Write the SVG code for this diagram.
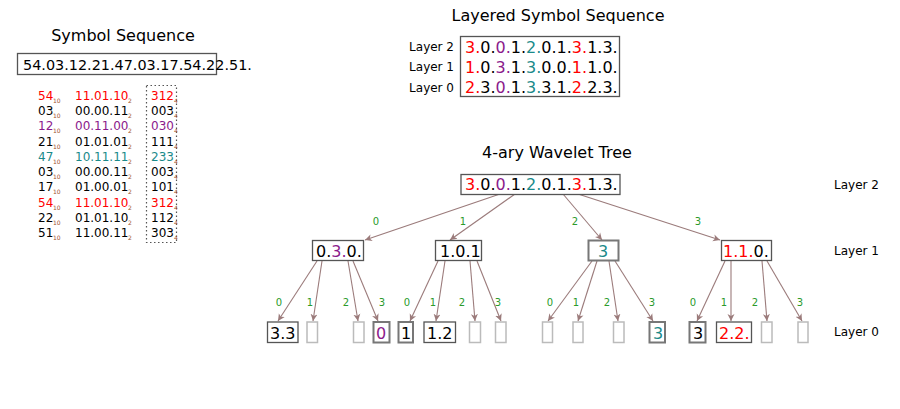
<svg xmlns="http://www.w3.org/2000/svg" width="900" height="409" viewBox="0 0 900 409">
<defs>
<marker id="ah" markerWidth="8" markerHeight="8" refX="7" refY="4" orient="auto" markerUnits="userSpaceOnUse">
<path d="M0,0.5 L7,4 L0,7.5 L2,4 Z" fill="#9b7b7b"/>
</marker>
<style>
text{font-family:"DejaVu Sans","Liberation Sans",sans-serif;fill:#000}
.title{font-size:16px;text-anchor:middle}
.seq{font-size:16px}
.lbl{font-size:12px}
.tb{font-size:12px}
.sub{font-size:6px;fill:#a0522d}
.el{font-size:10px;fill:#2a9a2a;text-anchor:middle}
.r{fill:#f00}.p{fill:#8b1a8b}.t{fill:#1a8a8a}
.box{fill:#fff;stroke:#555;stroke-width:1.3}
.gbox{fill:#fff;stroke:#777;stroke-width:2}
.ebox{fill:#fff;stroke:#bbb;stroke-width:1.5}
.e{stroke:#9b7b7b;stroke-width:1.1;fill:none;marker-end:url(#ah)}
</style>
</defs>
<rect width="900" height="409" fill="#fff"/>

<g id="symbol-sequence">
<text class="title" x="123" y="41">Symbol Sequence</text>
<rect x="17.5" y="53.5" width="199" height="21" fill="none" stroke="#555" stroke-width="1.3"/>
<text x="23" y="70" font-size="14.4">54.03.12.21.47.03.17.54.22.51.</text>
</g>

<g id="conversion-table">
<rect x="146.5" y="85.5" width="30" height="157" fill="none" stroke="#555" stroke-width="1.2" stroke-dasharray="1.5,2.5"/>
<g class="tb">
<text x="38" y="100" class="r">54</text><text x="75" y="100" class="r">11.01.10</text><text x="151" y="100" class="r">312</text>
<text x="38" y="115">03</text><text x="75" y="115">00.00.11</text><text x="151" y="115">003</text>
<text x="38" y="130" class="p">12</text><text x="75" y="130" class="p">00.11.00</text><text x="151" y="130" class="p">030</text>
<text x="38" y="146">21</text><text x="75" y="146">01.01.01</text><text x="151" y="146">111</text>
<text x="38" y="161" class="t">47</text><text x="75" y="161" class="t">10.11.11</text><text x="151" y="161" class="t">233</text>
<text x="38" y="176">03</text><text x="75" y="176">00.00.11</text><text x="151" y="176">003</text>
<text x="38" y="191">17</text><text x="75" y="191">01.00.01</text><text x="151" y="191">101</text>
<text x="38" y="207" class="r">54</text><text x="75" y="207" class="r">11.01.10</text><text x="151" y="207" class="r">312</text>
<text x="38" y="222">22</text><text x="75" y="222">01.01.10</text><text x="151" y="222">112</text>
<text x="38" y="237">51</text><text x="75" y="237">11.00.11</text><text x="151" y="237">303</text>
</g>
<g>
<text class="sub" x="53" y="103">10</text><text class="sub" x="128" y="103">2</text><text class="sub" x="174" y="103">4</text>
<text class="sub" x="53" y="118">10</text><text class="sub" x="128" y="118">2</text><text class="sub" x="174" y="118">4</text>
<text class="sub" x="53" y="133">10</text><text class="sub" x="128" y="133">2</text><text class="sub" x="174" y="133">4</text>
<text class="sub" x="53" y="149">10</text><text class="sub" x="128" y="149">2</text><text class="sub" x="174" y="149">4</text>
<text class="sub" x="53" y="164">10</text><text class="sub" x="128" y="164">2</text><text class="sub" x="174" y="164">4</text>
<text class="sub" x="53" y="179">10</text><text class="sub" x="128" y="179">2</text><text class="sub" x="174" y="179">4</text>
<text class="sub" x="53" y="194">10</text><text class="sub" x="128" y="194">2</text><text class="sub" x="174" y="194">4</text>
<text class="sub" x="53" y="210">10</text><text class="sub" x="128" y="210">2</text><text class="sub" x="174" y="210">4</text>
<text class="sub" x="53" y="225">10</text><text class="sub" x="128" y="225">2</text><text class="sub" x="174" y="225">4</text>
<text class="sub" x="53" y="240">10</text><text class="sub" x="128" y="240">2</text><text class="sub" x="174" y="240">4</text>
</g>
</g>

<g id="layered-sequence">
<text class="title" x="558" y="21">Layered Symbol Sequence</text>
<rect x="460.5" y="36.5" width="159" height="60" fill="none" stroke="#555" stroke-width="1.3"/>
<text class="lbl" x="454" y="51" text-anchor="end">Layer 2</text>
<text class="lbl" x="454" y="71" text-anchor="end">Layer 1</text>
<text class="lbl" x="454" y="92" text-anchor="end">Layer 0</text>
<text class="seq" x="465" y="53"><tspan class="r">3.</tspan>0.<tspan class="p">0.</tspan>1.<tspan class="t">2.</tspan>0.1.<tspan class="r">3.</tspan>1.3.</text>
<text class="seq" x="465" y="73"><tspan class="r">1.</tspan>0.<tspan class="p">3.</tspan>1.<tspan class="t">3.</tspan>0.0.<tspan class="r">1.</tspan>1.0.</text>
<text class="seq" x="465" y="93"><tspan class="r">2.</tspan>3.<tspan class="p">0.</tspan>1.<tspan class="t">3.</tspan>3.1.<tspan class="r">2.</tspan>2.3.</text>
</g>

<text class="title" x="557" y="158">4-ary Wavelet Tree</text>
<text class="lbl" x="834" y="189">Layer 2</text>
<text class="lbl" x="834" y="255">Layer 1</text>
<text class="lbl" x="834" y="336">Layer 0</text>

<g id="connectors">
<line class="e" x1="500" y1="194" x2="365" y2="240"/>
<line class="e" x1="515" y1="194" x2="450" y2="240"/>
<line class="e" x1="563" y1="194" x2="602" y2="240"/>
<line class="e" x1="578" y1="194" x2="720" y2="240"/>
<line class="e" x1="317" y1="261" x2="278" y2="321"/>
<line class="e" x1="322" y1="261" x2="313" y2="321"/>
<line class="e" x1="348" y1="261" x2="358" y2="321"/>
<line class="e" x1="353" y1="261" x2="378" y2="321"/>
<line class="e" x1="438" y1="261" x2="410" y2="321"/>
<line class="e" x1="445" y1="261" x2="436" y2="321"/>
<line class="e" x1="470" y1="261" x2="475" y2="321"/>
<line class="e" x1="477" y1="261" x2="501" y2="321"/>
<line class="e" x1="592" y1="261" x2="548" y2="321"/>
<line class="e" x1="597" y1="261" x2="578" y2="321"/>
<line class="e" x1="609" y1="261" x2="618" y2="321"/>
<line class="e" x1="615" y1="261" x2="653" y2="321"/>
<line class="e" x1="725" y1="261" x2="697" y2="321"/>
<line class="e" x1="731" y1="261" x2="731" y2="321"/>
<line class="e" x1="762" y1="261" x2="767" y2="321"/>
<line class="e" x1="767" y1="261" x2="802" y2="321"/>
<text class="el" x="376" y="225">0</text>
<text class="el" x="463" y="225">1</text>
<text class="el" x="575" y="225">2</text>
<text class="el" x="698" y="225">3</text>
<text class="el" x="279" y="306">0</text>
<text class="el" x="310" y="306">1</text>
<text class="el" x="346" y="306">2</text>
<text class="el" x="382" y="306">3</text>
<text class="el" x="407" y="306">0</text>
<text class="el" x="433" y="306">1</text>
<text class="el" x="462" y="306">2</text>
<text class="el" x="498" y="306">3</text>
<text class="el" x="550" y="306">0</text>
<text class="el" x="576" y="306">1</text>
<text class="el" x="607" y="306">2</text>
<text class="el" x="652" y="306">3</text>
<text class="el" x="693" y="306">0</text>
<text class="el" x="724" y="306">1</text>
<text class="el" x="755" y="306">2</text>
<text class="el" x="800" y="306">3</text>
</g>

<g id="root">
<rect class="box" x="461" y="174.5" width="159" height="20"/>
<text class="seq" x="465" y="190"><tspan class="r">3.</tspan>0.<tspan class="p">0.</tspan>1.<tspan class="t">2.</tspan>0.1.<tspan class="r">3.</tspan>1.3.</text>
</g>

<g id="n0">
<rect class="box" x="312.5" y="240.5" width="51" height="20"/>
<text class="seq" x="316" y="257">0.<tspan class="p">3.</tspan>0.</text>
</g>
<g id="n1">
<rect class="box" x="435.5" y="240.5" width="46" height="20"/>
<text class="seq" x="440" y="257">1.0.1</text>
</g>
<g id="n2">
<rect class="gbox" x="588.5" y="240.5" width="30" height="20"/>
<text class="seq t" x="598" y="257">3</text>
</g>
<g id="n3">
<rect class="box" x="721.5" y="240.5" width="50" height="20"/>
<text class="seq" x="723" y="257"><tspan class="r">1.1.</tspan>0.</text>
</g>

<g id="n00"><rect class="box" x="267.5" y="322" width="30.5" height="20.5"/><text class="seq" x="270" y="339">3.3</text></g>
<g id="n01"><rect class="ebox" x="307" y="322" width="10.5" height="20.5"/></g>
<g id="n02"><rect class="ebox" x="353.5" y="322" width="10.5" height="20.5"/></g>
<g id="n03"><rect class="gbox" x="373.5" y="322" width="16" height="20.5"/><text class="seq p" x="376" y="339">0</text></g>
<g id="n10"><rect class="gbox" x="398.5" y="322" width="14.5" height="20.5"/><text class="seq" x="401" y="339">1</text></g>
<g id="n11"><rect class="box" x="424" y="322" width="31.5" height="20.5"/><text class="seq" x="427" y="339">1.2</text></g>
<g id="n12"><rect class="ebox" x="469.5" y="322" width="11" height="20.5"/></g>
<g id="n13"><rect class="ebox" x="495.5" y="322" width="10.5" height="20.5"/></g>
<g id="n20"><rect class="ebox" x="542.5" y="322" width="10" height="20.5"/></g>
<g id="n21"><rect class="ebox" x="573" y="322" width="10" height="20.5"/></g>
<g id="n22"><rect class="ebox" x="613.5" y="322" width="10.5" height="20.5"/></g>
<g id="n23"><rect class="gbox" x="649.5" y="322" width="15.5" height="20.5"/><text class="seq t" x="653" y="339">3</text></g>
<g id="n30"><rect class="gbox" x="689.5" y="322" width="16" height="20.5"/><text class="seq" x="693" y="339">3</text></g>
<g id="n31"><rect class="box" x="716.5" y="322" width="35" height="20.5"/><text class="seq r" x="719" y="339">2.2.</text></g>
<g id="n32"><rect class="ebox" x="761.5" y="322" width="10.5" height="20.5"/></g>
<g id="n33"><rect class="ebox" x="798" y="322" width="10" height="20.5"/></g>
</svg>
